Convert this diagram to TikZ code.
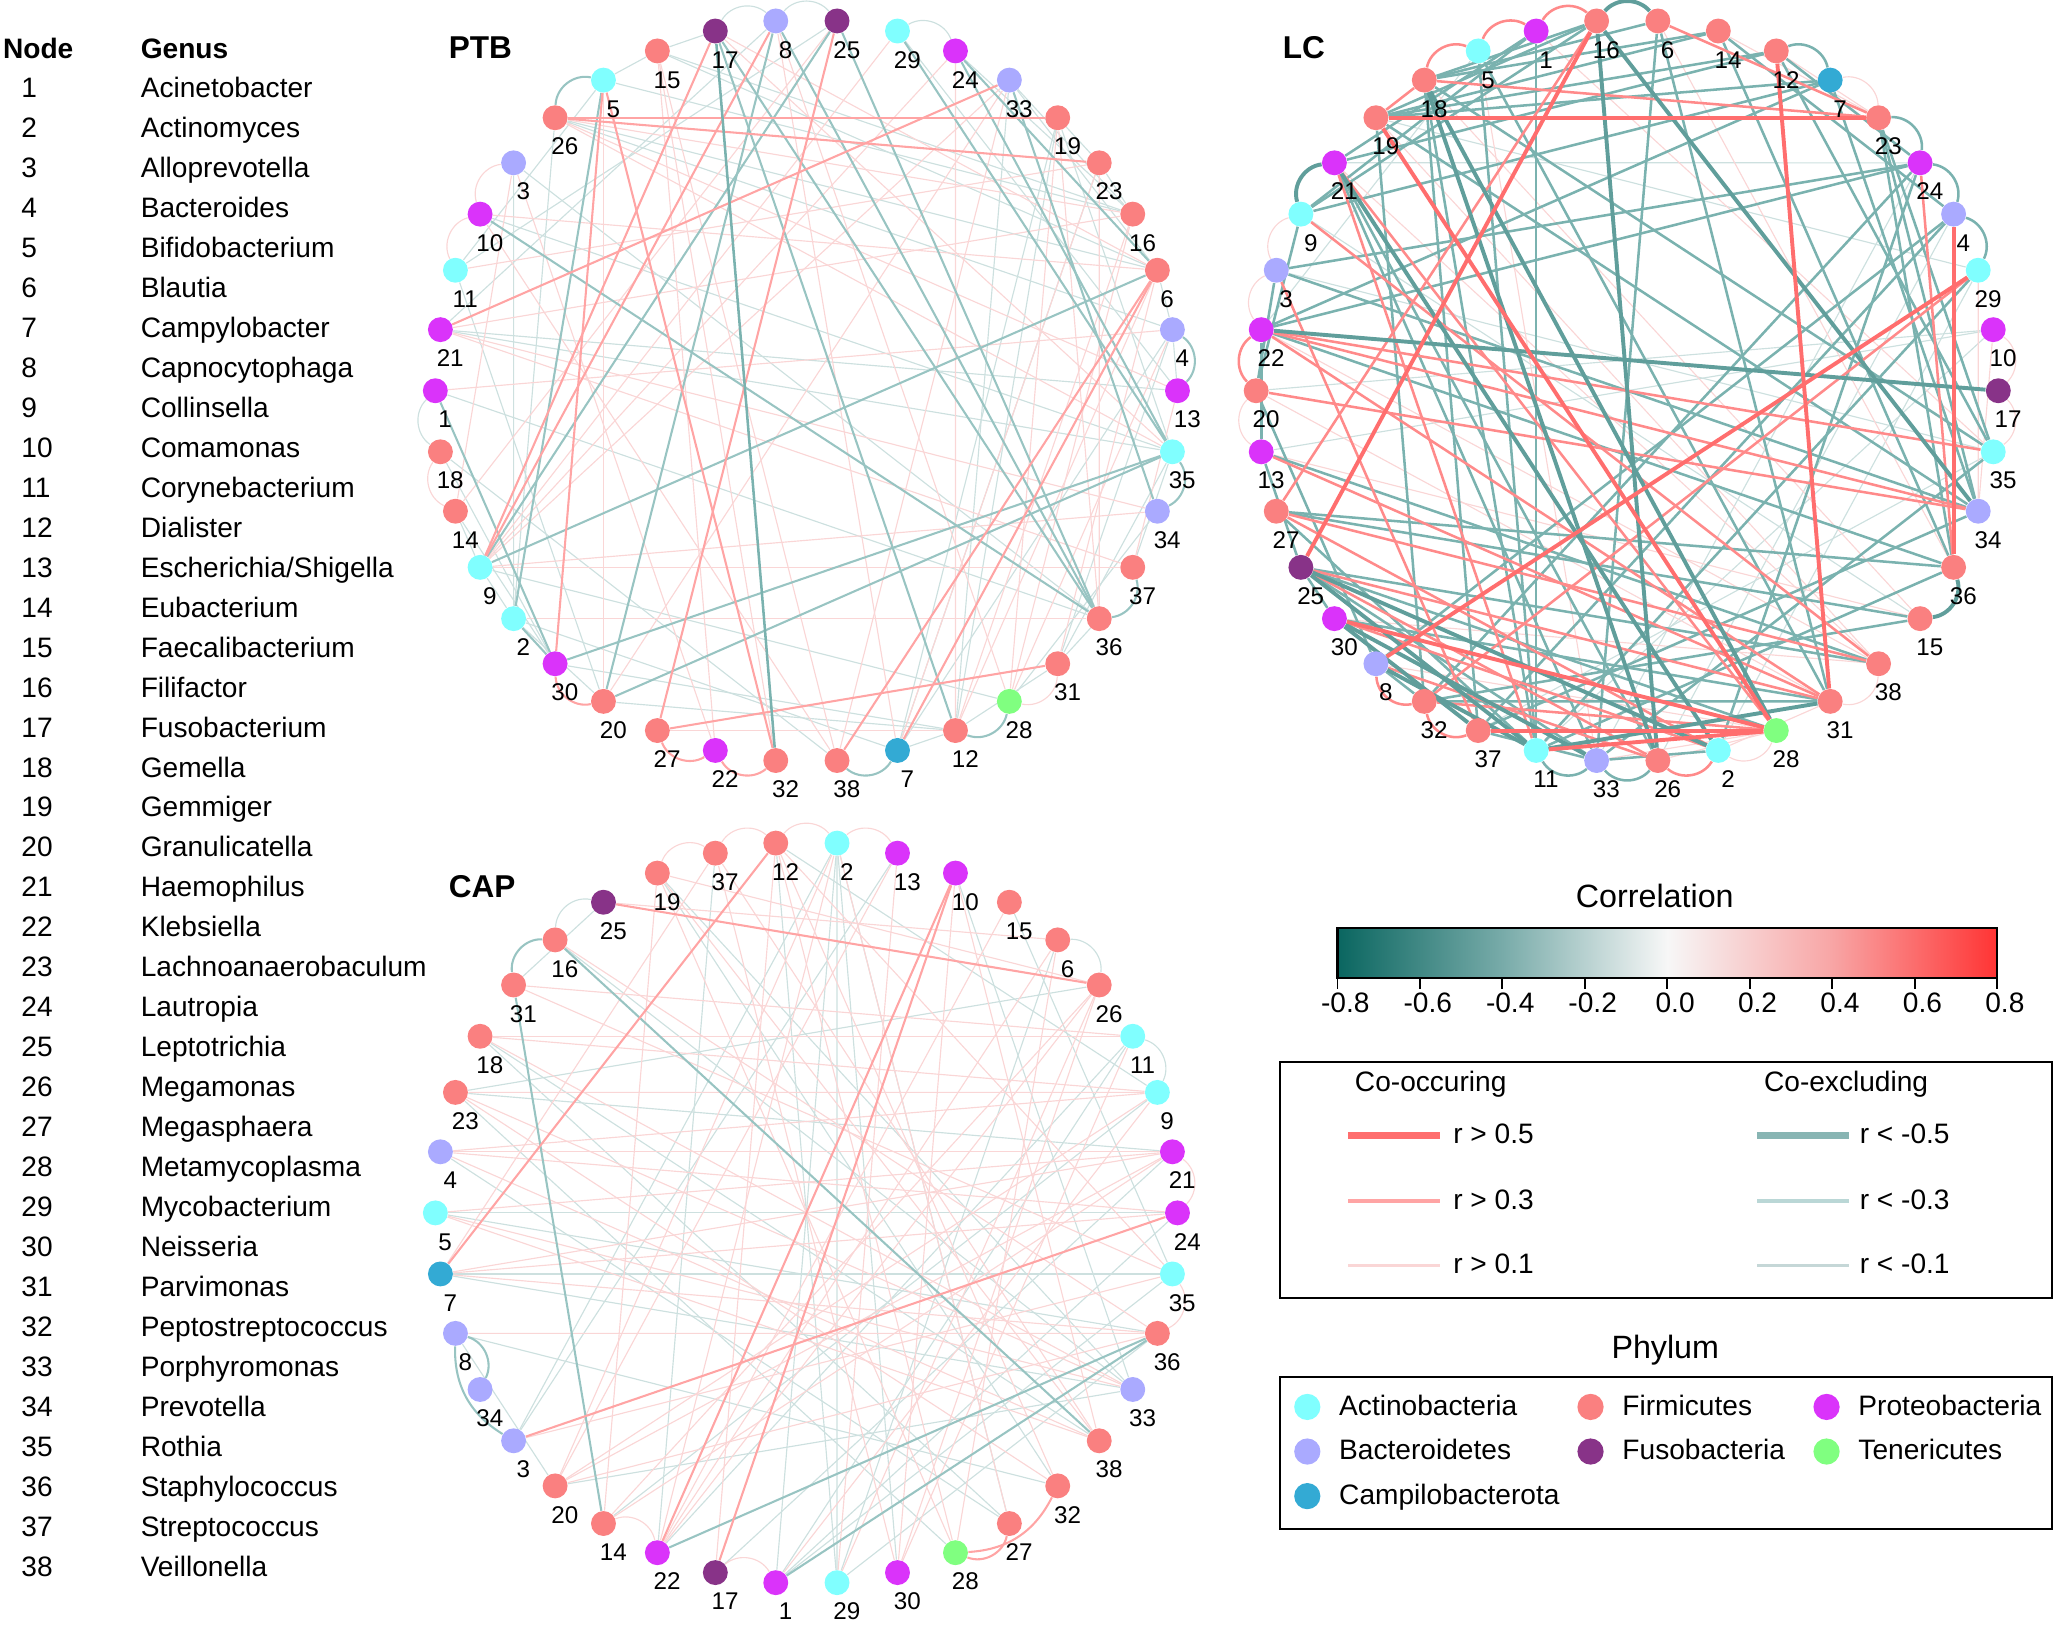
\documentclass[tikz,border=0pt]{standalone}
\usepackage{fontspec}
\setmainfont{Liberation Sans}
\usetikzlibrary{backgrounds}

% phylum colours
\definecolor{actino}{RGB}{128,255,255}
\definecolor{bacter}{RGB}{170,170,255}
\definecolor{campi}{RGB}{51,170,212}
\definecolor{firmi}{RGB}{250,128,128}
\definecolor{fuso}{RGB}{136,51,136}
\definecolor{proteo}{RGB}{218,51,250}
\definecolor{tener}{RGB}{128,255,128}
% edge colours
\definecolor{pweak}{RGB}{250,214,214}
\definecolor{pmid}{RGB}{255,164,164}
\definecolor{pdeep}{RGB}{255,138,138}
\definecolor{pstrong}{RGB}{255,110,110}
\definecolor{nweak}{RGB}{205,224,223}
\definecolor{nmid}{RGB}{152,196,194}
\definecolor{ndeep}{RGB}{122,178,175}
\definecolor{nstrong}{RGB}{96,158,155}
% colour bar
\definecolor{cbneg}{RGB}{10,102,96}
\definecolor{cbnegmid}{RGB}{120,171,169}
\definecolor{cbzero}{RGB}{247,247,247}
\definecolor{cbposmid}{RGB}{248,165,165}
\definecolor{cbpos}{RGB}{255,52,52}
\pgfdeclarehorizontalshading{corrshade}{100bp}{color(0bp)=(cbneg); color(25bp)=(cbneg); color(37.5bp)=(cbnegmid);
  color(50bp)=(cbzero); color(62.5bp)=(cbposmid); color(75bp)=(cbpos); color(100bp)=(cbpos)}

\newcommand\tabfnt{\fontsize{12.2}{14}\selectfont}
\newcommand\numfnt{\fontsize{10.5}{12}\selectfont}
\newcommand\ttlfnt{\fontsize{13.7}{16}\selectfont\bfseries}
\newcommand\keyfnt{\fontsize{14}{16}\selectfont}

% edges of one network: prefix, style, list of pairs
\newcommand\linkset[3]{\foreach \a/\b in {#3} \draw[#2] (#1\a) -- (#1\b);}
\newcommand\arcset[3]{\foreach \a/\b in {#3} \draw[#2] (#1\a) to[bend left=50] (#1\b);}

\tikzset{
  tabhead/.style={anchor=west, inner sep=0pt, font=\tabfnt\bfseries, text height=0.72em, text depth=0pt},
  tabcell/.style={anchor=west, inner sep=0pt, font=\tabfnt, text height=0.72em, text depth=0pt},
  ttl/.style={anchor=west, inner sep=0pt, font=\ttlfnt, text height=0.72em, text depth=0pt},
  keyttl/.style={inner sep=0pt, font=\keyfnt, text height=0.72em, text depth=0pt},
  bug/.style={circle, minimum size=0.38cm, inner sep=0pt},
  num/.style={inner sep=0pt, font=\numfnt, text height=0.72em, text depth=0pt},
  dot/.style={circle, minimum size=0.4cm, inner sep=0pt},
  keybox/.style={line width=0.9pt},
  p1/.style={draw=pweak, line width=0.5pt},
  p3/.style={draw=pmid, line width=0.9pt},
  p4/.style={draw=pdeep, line width=1.1pt},
  p5/.style={draw=pstrong, line width=1.7pt},
  n1/.style={draw=nweak, line width=0.5pt},
  n3/.style={draw=nmid, line width=0.9pt},
  n4/.style={draw=ndeep, line width=1.1pt},
  n5/.style={draw=nstrong, line width=1.7pt},
  occ1/.style={draw=pweak, line width=1.2pt},
  occ2/.style={draw=pmid, line width=1.9pt},
  occ3/.style={draw=pstrong, line width=2.9pt},
  exc1/.style={draw={rgb,255:red,197;green,215;blue,215}, line width=1.2pt},
  exc2/.style={draw={rgb,255:red,186;green,215;blue,214}, line width=1.9pt},
  exc3/.style={draw={rgb,255:red,136;green,181;blue,179}, line width=2.9pt},
  g1/.style={fill=proteo}, g2/.style={fill=actino}, g3/.style={fill=bacter}, g4/.style={fill=bacter},
  g5/.style={fill=actino}, g6/.style={fill=firmi}, g7/.style={fill=campi}, g8/.style={fill=bacter},
  g9/.style={fill=actino}, g10/.style={fill=proteo}, g11/.style={fill=actino}, g12/.style={fill=firmi},
  g13/.style={fill=proteo}, g14/.style={fill=firmi}, g15/.style={fill=firmi}, g16/.style={fill=firmi},
  g17/.style={fill=fuso}, g18/.style={fill=firmi}, g19/.style={fill=firmi}, g20/.style={fill=firmi},
  g21/.style={fill=proteo}, g22/.style={fill=proteo}, g23/.style={fill=firmi}, g24/.style={fill=proteo},
  g25/.style={fill=fuso}, g26/.style={fill=firmi}, g27/.style={fill=firmi}, g28/.style={fill=tener},
  g29/.style={fill=actino}, g30/.style={fill=proteo}, g31/.style={fill=firmi}, g32/.style={fill=firmi},
  g33/.style={fill=bacter}, g34/.style={fill=bacter}, g35/.style={fill=actino}, g36/.style={fill=firmi},
  g37/.style={fill=firmi}, g38/.style={fill=firmi}
}

\begin{document}
\begin{tikzpicture}[x=0.02cm, y=-0.02cm]
\useasboundingbox (0,0) rectangle (1568,1239);

% genus table
\node[tabhead] (nodehd) at (2,38) {Node};
\node[tabhead] (genhd) at (107,38) {Genus};
\foreach \g [count=\i] in {Acinetobacter, Actinomyces, Alloprevotella, Bacteroides, Bifidobacterium,
  Blautia, Campylobacter, Capnocytophaga, Collinsella, Comamonas, Corynebacterium, Dialister,
  {Escherichia/Shigella}, Eubacterium, Faecalibacterium, Filifactor, Fusobacterium, Gemella, Gemmiger,
  Granulicatella, Haemophilus, Klebsiella, Lachnoanaerobaculum, Lautropia, Leptotrichia, Megamonas,
  Megasphaera, Metamycoplasma, Mycobacterium, Neisseria, Parvimonas, Peptostreptococcus,
  Porphyromonas, Prevotella, Rothia, Staphylococcus, Streptococcus, Veillonella} {
  \node[tabcell] (num\i) at (16,{68+(\i-1)*30.486}) {\i};
  \node[tabcell] (gen\i) at (107,{68+(\i-1)*30.486}) {\g};
}

% PTB network
\node[ttl] (ptbt) at (342,38) {PTB};
\coordinate (ptbc) at (615,298);
\foreach \n [count=\i from 0, evaluate=\i as \ang using -94.737+\i*9.4737] in
  {8,25,29,24,33,19,23,16,6,4,13,35,34,37,36,31,28,12,7,38,32,22,27,20,30,2,9,14,18,1,21,11,10,3,26,5,15,17}
  \node[bug, g\n, label={[num, xshift=0.15cm, yshift=-0.44cm]center:\n}] (ptb\n) at ([shift={(\ang:283)}]ptbc) {};

% LC network
\node[ttl] (lct) at (978,38) {LC};
\coordinate (lcc) at (1241,298);
\foreach \n [count=\i from 0, evaluate=\i as \ang using -94.737+\i*9.4737] in
  {16,6,14,12,7,23,24,4,29,10,17,35,34,36,15,38,31,28,2,26,33,11,37,32,8,30,25,27,13,20,22,3,9,21,19,18,5,1}
  \node[bug, g\n, label={[num, xshift=0.15cm, yshift=-0.44cm]center:\n}] (lc\n) at ([shift={(\ang:283)}]lcc) {};

% CAP network
\node[ttl] (capt) at (342,678) {CAP};
\coordinate (capc) at (615,925);
\foreach \n [count=\i from 0, evaluate=\i as \ang using -94.737+\i*9.4737] in
  {12,2,13,10,15,6,26,11,9,21,24,35,36,33,38,32,27,28,30,29,1,17,22,14,20,3,34,8,7,5,4,23,18,31,16,25,19,37}
  \node[bug, g\n, label={[num, xshift=0.15cm, yshift=-0.44cm]center:\n}] (cap\n) at ([shift={(\ang:283)}]capc) {};

\begin{scope}[on background layer]
  % PTB
  \linkset{ptb}{n1}{15/6,15/16,21/35,10/35,21/13,26/2,11/25,21/8,7/23,7/19,7/4,12/19,12/33,28/34,31/35,37/35,
    33/6,26/6,5/16,14/30,18/30,30/12,2/7,3/2,11/5,14/9,9/2,4/13,19/23,23/16,6/4,7/12,31/12,9/28,20/12,36/31,
    15/17,5/15,26/4,3/36,11/20,1/36,18/38,2/20,29/13,33/16,24/16,19/35,4/31}
  \linkset{ptb}{p1}{27/12,29/9,11/23,6/12,17/35,17/6,15/32,15/22,8/28,8/7,33/9,9/34,9/37,26/35,19/28,10/38,
    21/16,26/16,25/14,24/9,33/20,19/36,23/36,16/12,4/28,13/37,3/22,2/36,15/38,5/20,33/38,24/12,21/37,21/34,
    26/13,1/4,10/6,3/14,16/28,6/31,23/7}
  \arcset{ptb}{n1}{29/24,18/1,8/25,17/8}
  \arcset{ptb}{p1}{10/3,11/10,14/18,31/28}
  \linkset{ptb}{n3}{17/12,24/35,29/35,6/9,25/9,25/36,8/20,10/36,2/5,1/30,35/30,35/20,2/30,24/6,8/36,33/34,17/36}
  \linkset{ptb}{p3}{26/19,26/23,27/31,25/27,8/9,5/30,5/32,21/33,6/38,9/17,6/7}
  \arcset{ptb}{n3}{26/5,7/38,28/12,37/36,35/34,4/13}
  \arcset{ptb}{p3}{20/30,22/27,32/22}
  \linkset{ptb}{n4}{17/32}
  % LC
  \linkset{lc}{n1}{3/35,20/10,9/15,19/29,21/24,5/22,13/10,2/29,26/4,33/24,37/35,11/10}
  \linkset{lc}{p1}{6/36,18/15,19/38,5/33,22/38,20/31,30/38,8/28,33/28,26/28,14/23,10/34,29/34,2/31,12/23,
    1/35,21/38,13/15}
  \arcset{lc}{p1}{3/9,22/3,13/20,10/17,17/35,38/31,28/2,7/23}
  \linkset{lc}{n4}{5/11,1/11,18/11,25/28,25/33,27/11,7/19,7/22,7/9,12/21,14/19,24/32,4/37,24/2,23/36,23/34,
    7/34,12/35,27/15,13/38,27/36,22/36,18/35,19/34,3/34,22/24,3/24,20/8,21/26,14/18,12/19,6/18,16/18,16/19,
    16/9,1/21,6/33,14/36,23/35,4/8,29/11,35/33,34/37,36/11,15/32,38/25,31/32,31/30,2/33,37/33,3/20,9/20,
    22/13,13/25,25/30,8/32,19/32,21/33,18/37,5/31,6/31,14/4,12/24,1/9}
  \linkset{lc}{p4}{18/23,24/36,16/27,21/11,22/31,29/32,25/31,30/2,20/34,22/34,22/35,27/38,21/28,13/31,32/28,
    8/26,18/19,6/23,9/38,3/37,25/26,27/2}
  \arcset{lc}{n4}{4/29,26/33,33/11,12/7,23/24,24/4}
  \arcset{lc}{p4}{5/1,18/5,20/22,2/26,37/32,32/8,1/16}
  \linkset{lc}{n5}{22/17,18/28,21/2,16/34,16/26,25/11,30/33,31/11,25/2,18/26,30/37,8/11}
  \linkset{lc}{p5}{19/23,12/31,4/36,16/25,19/28,29/8,30/28,11/28,37/28}
  \arcset{lc}{n5}{16/6,9/21,36/15}
  % CAP
  \linkset{cap}{n1}{23/21,5/24,7/33,7/35,2/29,2/30,2/1,12/29,19/32,16/33,37/22,2/3,4/27,23/28,18/27,11/22,
    9/14,21/17,35/1,33/20,38/18,32/8,6/29,15/35,26/23,25/31,13/3,10/33,11/1,36/5,24/1,20/8,19/33,2/27,12/9,
    29/36}
  \linkset{cap}{p1}{25/6,19/26,10/38,10/30,5/33,5/38,21/20,7/37,37/30,19/28,2/22,21/7,24/7,9/4,26/14,23/9,
    18/11,31/11,4/21,7/36,20/2,14/19,17/12,30/26,29/26,1/9,3/35,8/36,30/11,32/12,27/2,38/19,16/36,31/35,
    37/38,15/22,6/22,12/35,13/20,23/33,18/33,4/38,4/24,20/9,5/21,23/32,18/9,22/26,14/21,12/28,13/29,28/6,
    36/20}
  \arcset{cap}{n1}{16/25,6/26,11/9}
  \arcset{cap}{p1}{17/1,14/22,12/2,2/13,37/12,19/37,21/24,35/36}
  \linkset{cap}{n3}{16/38,31/14,22/36,1/36}
  \linkset{cap}{p3}{25/26,3/24,7/12,10/22,10/17}
  \arcset{cap}{n3}{31/16,8/34}
  \arcset{cap}{p3}{27/28}
  \draw[n3] (cap3) to[bend left=30] (cap8);
  \draw[p3] (cap32) to[bend left=30] (cap28);
\end{scope}

% colour bar
\node[keyttl] (corrt) at (1262,686) {Correlation};
\node[draw, line width=0.9pt, shading=corrshade, minimum width=10.06cm, minimum height=0.76cm,
  inner sep=0pt] (cbar) at (1271.5,727) {};
\foreach \v [count=\k from 0] in {-0.8,-0.6,-0.4,-0.2,0.0,0.2,0.4,0.6,0.8} {
  \draw[line width=0.8pt] ({1020+\k*62.875},746) -- ++(0,8);
  \node[tabcell, anchor=center] (tick\k) at ({1026+\k*62.875},766) {\v};
}

% edge legend
\draw[keybox] (976,810) rectangle (1565,990);
\node[tabcell] (cooc) at (1033,826) {Co-occuring};
\node[tabcell] (coex) at (1345,826) {Co-excluding};
\foreach \t/\y [count=\k] in {0.5/866,0.3/916,0.1/965} {
  \node[tabcell] (occr\k) at (1108,\y) {r > \t};
  \node[tabcell] (excr\k) at (1418,\y) {r < -\t};
}
\draw[occ3] ([xshift=-0.2cm]occr1.west) -- ++(-70,0);
\draw[occ2] ([xshift=-0.2cm]occr2.west) -- ++(-70,0);
\draw[occ1] ([xshift=-0.2cm]occr3.west) -- ++(-70,0);
\draw[exc3] ([xshift=-0.16cm]excr1.west) -- ++(-70,0);
\draw[exc2] ([xshift=-0.16cm]excr2.west) -- ++(-70,0);
\draw[exc1] ([xshift=-0.16cm]excr3.west) -- ++(-70,0);

% phylum legend
\node[keyttl] (phyt) at (1270,1030) {Phylum};
\draw[keybox] (976,1050) rectangle (1565,1166);
\foreach \c/\t/\x/\y [count=\k] in {actino/Actinobacteria/997/1073, firmi/Firmicutes/1213/1073,
  proteo/Proteobacteria/1393/1073, bacter/Bacteroidetes/997/1107, fuso/Fusobacteria/1213/1107,
  tener/Tenericutes/1393/1107, campi/Campilobacterota/997/1141} {
  \node[dot, fill=\c] (dot\k) at (\x,\y) {};
  \node[tabcell] (phy\k) at ({\x+24},\y) {\t};
}
\end{tikzpicture}
\end{document}
